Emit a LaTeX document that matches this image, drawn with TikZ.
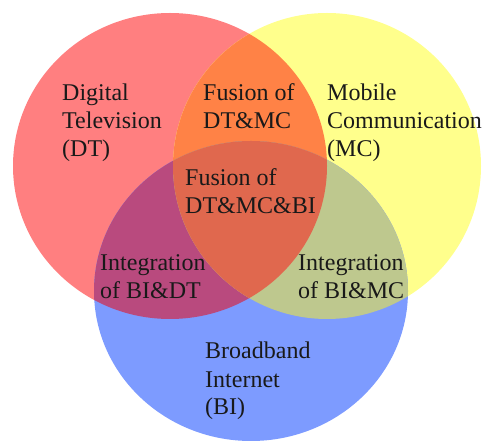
\documentclass[tikz,border=0pt]{standalone}
\usepackage{fontspec}
\setmainfont{Liberation Serif}
% region colours
\definecolor{dtcol}{HTML}{FF7F80}
\definecolor{mccol}{HTML}{FFFF8C}
\definecolor{bicol}{HTML}{7D9BFF}
\definecolor{dtmccol}{HTML}{FF8246}
\definecolor{bidtcol}{HTML}{B94A7E}
\definecolor{bimccol}{HTML}{BEC88E}
\definecolor{allcol}{HTML}{E0684E}
\begin{document}
\begin{tikzpicture}[x=1pt,y=-1pt,
  label/.style={anchor=base west,align=left,inner sep=0pt,text=black!90,
    font=\fontsize{24}{28}\selectfont}]
\useasboundingbox (0,0) rectangle (482,443);
\def\dtpath{(170,166) ellipse [x radius=157pt, y radius=153pt]}
\def\mcpath{(327,166) ellipse [x radius=154pt, y radius=153pt]}
\def\bipath{(251,291) ellipse [x radius=157pt, y radius=150pt]}
% single sets
\fill[dtcol] \dtpath;
\fill[mccol] \mcpath;
\fill[bicol] \bipath;
% pairwise overlaps
\begin{scope}\clip \dtpath; \fill[dtmccol] \mcpath;\end{scope}
\begin{scope}\clip \dtpath; \fill[bidtcol] \bipath;\end{scope}
\begin{scope}\clip \mcpath; \fill[bimccol] \bipath;\end{scope}
% triple overlap
\begin{scope}\clip \dtpath; \clip \mcpath; \fill[allcol] \bipath;\end{scope}
% labels (anchored at the baseline of their last line)
\node[label] (dt) at (62,157) {Digital\\Television\\(DT)};
\node[label] (dtmc) at (203,129) {Fusion of\\DT\&MC};
\node[label] (mc) at (327,157) {Mobile\\Communication\\(MC)};
\node[label] (dtmcbi) at (185,214) {Fusion of\\DT\&MC\&BI};
\node[label] (bidt) at (100,299) {Integration\\of BI\&DT};
\node[label] (bimc) at (298,299) {Integration\\of BI\&MC};
\node[label] (bi) at (205,415) {Broadband\\Internet\\(BI)};
\end{tikzpicture}
\end{document}
